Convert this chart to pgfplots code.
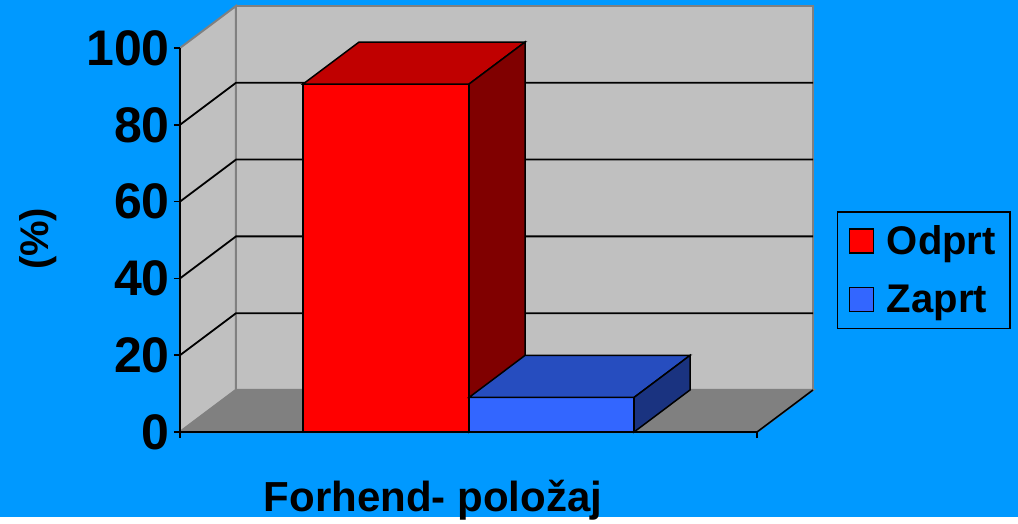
\documentclass[border=0pt]{standalone}
\usepackage{fontspec}
\setmainfont{Liberation Sans}
\usepackage{pgfplots}
\pgfplotsset{compat=1.18}
\definecolor{bgblue}{RGB}{0,153,255}
\definecolor{wallgray}{RGB}{192,192,192}
\definecolor{floorgray}{RGB}{128,128,128}
\definecolor{edgegray}{RGB}{128,128,128}
\definecolor{redfront}{RGB}{255,0,0}
\definecolor{redtop}{RGB}{192,0,0}
\definecolor{redside}{RGB}{128,0,0}
\definecolor{bluefront}{RGB}{51,102,255}
\definecolor{bluetop}{RGB}{38,77,191}
\definecolor{blueside}{RGB}{26,51,128}
\begin{document}
\begin{tikzpicture}
\begin{axis}[
  scale only axis, width=577bp, height=384bp,
  xmin=180, xmax=757, ymin=0, ymax=100,
  clip=false, axis on top,
  axis x line=bottom, axis y line=left,
  axis line style={-, line width=1.6bp, black},
  xtick={180,757}, xticklabels={,},
  ytick={0,20,40,60,80,100},
  tick align=outside, major tick length=6bp,
  tick style={black, line width=1.6bp},
  /pgf/number format/assume math mode=true,
  yticklabel style={font=\bfseries\fontsize{50bp}{54bp}\selectfont, inner xsep=4bp},
  no marks,
  legend cell align=left,
  legend style={at={(1.1386,0.5755)}, anchor=north west, draw=black, line width=1.5bp,
    fill=none, font=\bfseries\fontsize{40bp}{44bp}\selectfont,
    inner xsep=11bp, inner ysep=11bp, row sep=23bp,
    nodes={inner sep=3bp},
    /tikz/every odd column/.append style={column sep=10bp}},
  legend image code/.code={\draw[#1, draw=black, line width=1.2bp] (0bp,-12bp) rectangle (24bp,12bp);},
]
% background
\fill[bgblue] (axis cs:0,112.5) rectangle (axis cs:1018,-22.135);
% back wall
\addplot[forget plot, fill=wallgray, draw=edgegray, line width=2bp] coordinates {(236,10.94) (813,10.94) (813,110.94) (236,110.94)} -- cycle;
% left wall
\addplot[forget plot, fill=wallgray, draw=edgegray, line width=2bp] coordinates {(180,0) (236,10.94) (236,110.94) (180,100)} -- cycle;
% floor
\addplot[forget plot, fill=floorgray, draw=edgegray, line width=2bp] coordinates {(180,0) (757,0) (813,10.94) (236,10.94)} -- cycle;
\addplot[forget plot, draw=black, line width=1.6bp] coordinates {(757,0) (813,10.94)};
% gridlines
\addplot[forget plot, draw=black, line width=1.8bp] coordinates {(180,20) (236,30.94) (813,30.94)};
\addplot[forget plot, draw=black, line width=1.8bp] coordinates {(180,40) (236,50.94) (813,50.94)};
\addplot[forget plot, draw=black, line width=1.8bp] coordinates {(180,60) (236,70.94) (813,70.94)};
\addplot[forget plot, draw=black, line width=1.8bp] coordinates {(180,80) (236,90.94) (813,90.94)};
% red bar (Odprt = 90.6)
\addplot[fill=redfront, draw=black, line width=1.5bp] coordinates {(303,0) (469,0) (469,90.6) (303,90.6)} -- cycle;
\addlegendentry{Odprt}
\addplot[forget plot, fill=redtop, draw=black, line width=1.5bp] coordinates {(303,90.6) (469,90.6) (525,101.54) (359,101.54)} -- cycle;
\addplot[forget plot, fill=redside, draw=black, line width=1.5bp] coordinates {(469,0) (525,10.94) (525,101.54) (469,90.6)} -- cycle;
% blue bar (Zaprt = 9.0)
\addplot[fill=bluefront, draw=black, line width=1.5bp] coordinates {(469,0) (634,0) (634,9.0) (469,9.0)} -- cycle;
\addlegendentry{Zaprt}
\addplot[forget plot, fill=bluetop, draw=black, line width=1.5bp] coordinates {(469,9.0) (634,9.0) (690,19.94) (525,19.94)} -- cycle;
\addplot[forget plot, fill=blueside, draw=black, line width=1.5bp] coordinates {(634,0) (690,10.94) (690,19.94) (634,9.0)} -- cycle;
% labels
\node[rotate=90, font=\bfseries\fontsize{40bp}{44bp}\selectfont] at (axis cs:38,50.3) {(\%)};
\node[anchor=base, font=\bfseries\fontsize{42bp}{46bp}\selectfont] at (axis cs:433,-20.6) {Forhend- položaj};
\end{axis}
\end{tikzpicture}
\end{document}
